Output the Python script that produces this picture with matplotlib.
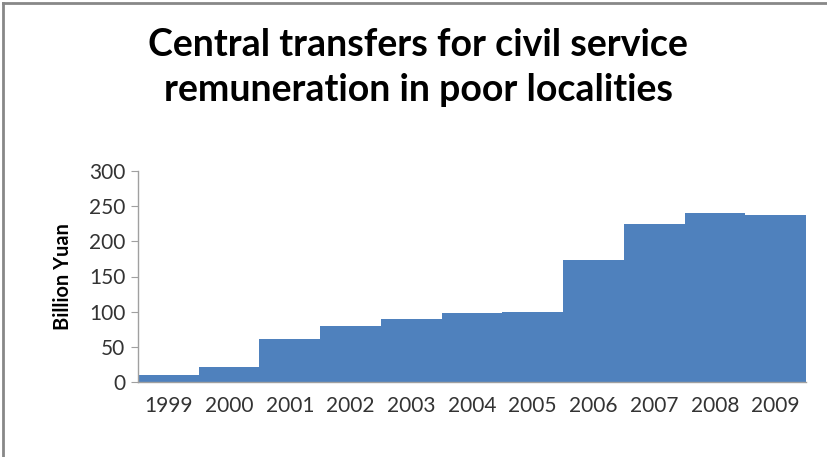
import matplotlib.pyplot as plt
from matplotlib.lines import Line2D

years = ['1999', '2000', '2001', '2002', '2003', '2004', '2005', '2006', '2007', '2008', '2009']
values = [10, 22, 61, 80, 89, 98, 99, 174, 224, 240, 237]
yticks = [0, 50, 100, 150, 200, 250, 300]

fig = plt.figure(figsize=(8.27, 4.57), dpi=100)
ax = fig.add_axes([138 / 827, 1 - 382 / 457, (806 - 138) / 827, (382 - 171) / 457])

x = range(len(years))
ax.bar(x, values, width=1.0, color='#4F81BD', linewidth=0)

ax.set_xlim(-0.5, len(years) - 0.5)
ax.set_ylim(0, 300)
ax.set_yticks(yticks)
ax.set_xticks(list(x))
ax.set_xticklabels(years)

for s in ['top', 'right']:
    ax.spines[s].set_visible(False)
for s in ['left', 'bottom']:
    ax.spines[s].set_color('#A0A0A0')
    ax.spines[s].set_linewidth(1)

ax.tick_params(axis='y', length=5, color='#A0A0A0', labelsize=15, pad=4, labelcolor='#333333')
ax.tick_params(axis='x', length=0, labelsize=15, pad=10, labelcolor='#333333')
for lab in ax.get_xticklabels() + ax.get_yticklabels():
    lab.set_family('Lato')

fig.text(63 / 827, 1 - 277 / 457, 'Billion Yuan', rotation=90, ha='center', va='center',
         fontsize=14.4, fontweight='bold', family='Lato')

fig.text(418 / 827, 1 - 45 / 457, 'Central transfers for civil service', ha='center', va='center',
         fontsize=27, fontweight='bold', family='Lato')
fig.text(418 / 827, 1 - 90 / 457, 'remuneration in poor localities', ha='center', va='center',
         fontsize=27, fontweight='bold', family='Lato')

# chart border (top and left edges visible)
fig.add_artist(Line2D([2.5 / 827, 2.5 / 827], [0, 1 - 2.5 / 457], transform=fig.transFigure,
                      color='#888888', linewidth=2))
fig.add_artist(Line2D([2.5 / 827, 1], [1 - 2.5 / 457, 1 - 2.5 / 457], transform=fig.transFigure,
                      color='#888888', linewidth=2))

plt.savefig('out.png', dpi=100)
